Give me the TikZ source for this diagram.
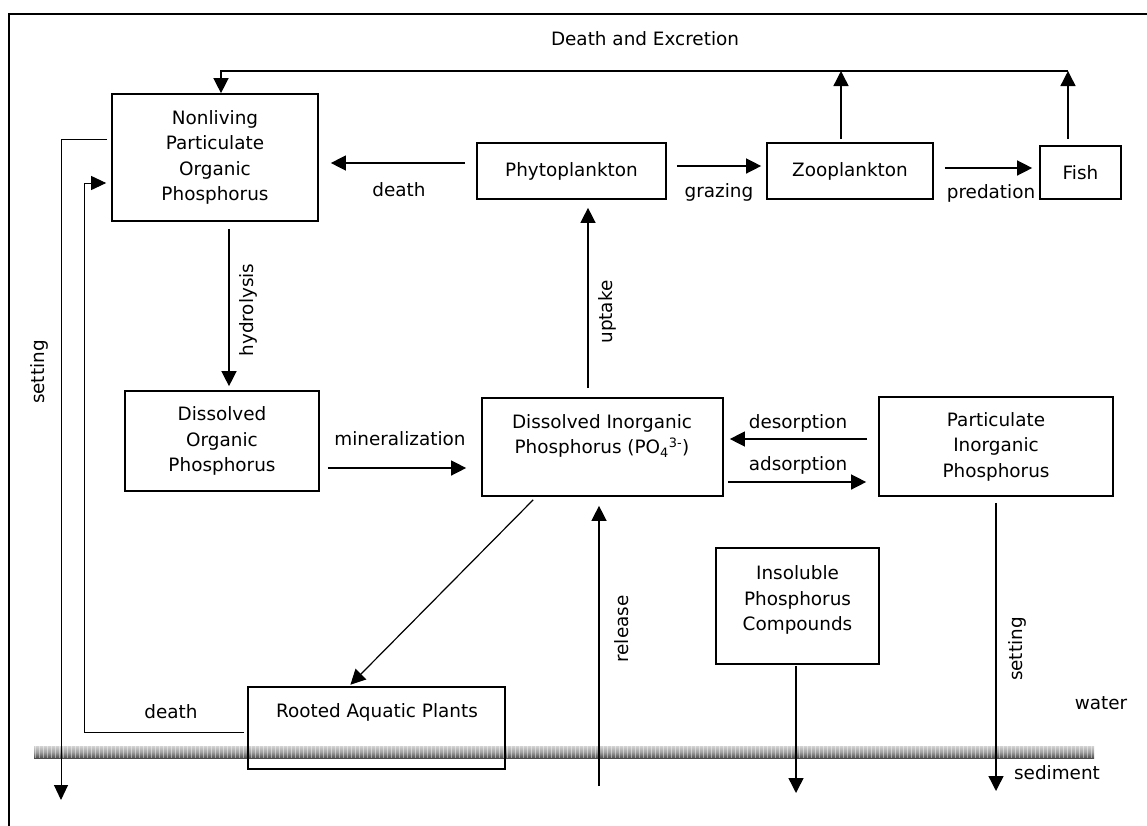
\documentclass[tikz,border=0pt]{standalone}
\usepackage{fontspec}
\setmainfont{DejaVu Sans}
\usetikzlibrary{arrows.meta}
\tikzset{
  box/.style={draw, line width=1.7pt, inner sep=0pt, align=center},
  lbl/.style={inner sep=0pt, align=center},
  arr/.style={line width=1.4pt, -{Triangle[length=15pt,width=15pt]}},
  thinarr/.style={line width=1pt, -{Triangle[length=15pt,width=14pt]}},
}
\begin{document}
\begin{tikzpicture}[x=1pt,y=-1pt,font=\fontsize{18.4}{25.5}\selectfont]
\useasboundingbox (0,0) rectangle (1147,825);
% frame
\draw[line width=2pt] (1150,14) -- (9,14) -- (9,830);
% sediment band
\shade[top color=gray!35, bottom color=black!70, middle color=gray!75] (34,746) rectangle (1094,758);
\foreach \x in {34,38,...,1092} \fill[white, opacity=0.45] (\x+0.5,746) rectangle (\x+2,758);
% boxes
\node[box, minimum width=206pt, minimum height=127pt] (npop) at (215,157.5) {Nonliving\\Particulate\\Organic\\Phosphorus};
\node[box, minimum width=189pt, minimum height=56pt] (phyto) at (571.5,171) {Phytoplankton};
\node[box, minimum width=166pt, minimum height=56pt] (zoo) at (850,171) {Zooplankton};
\node[box, minimum width=81pt, minimum height=53pt] (fish) at (1080.5,172.5) {Fish};
\node[box, minimum width=194pt, minimum height=100pt] (dop) at (222,441) {Dissolved\\Organic\\Phosphorus};
\node[box, minimum width=241pt, minimum height=98pt] (dip) at (602.5,447) {};
\node[lbl] (dipt) at (602,436) {Dissolved Inorganic\\Phosphorus (PO\textsubscript{4}\textsuperscript{3-})};
\node[box, minimum width=234pt, minimum height=99pt] (pip) at (996,446.5) {Particulate\\Inorganic\\Phosphorus};
\node[box, minimum width=163pt, minimum height=116pt] (ipc) at (797.5,606) {};
\node[lbl] (ipct) at (797.5,600) {Insoluble\\Phosphorus\\Compounds};
\node[box, minimum width=257pt, minimum height=82pt] (rap) at (376.5,728) {};
\node[lbl] (rapt) at (377,712) {Rooted Aquatic Plants};
% coordinates
\coordinate (exR) at (1068,71);
\coordinate (exL) at (221,71);
\coordinate (relB) at (599,786);
\coordinate (ipcB) at (796,793);
\coordinate (pipB) at (996,791);
\coordinate (setB) at (61,800);
\coordinate (dthL) at (84,183);
% connectors
\draw[arr] (exR) -- (exL) -- (exL |- npop.north);
\draw[arr] ([xshift=-12.5pt,yshift=6pt]fish.north) -- (exR);
\draw[arr] ([xshift=-9pt,yshift=3pt]zoo.north) -- ([xshift=-9pt]zoo.north |- exL);
\draw[arr, shorten <=11pt, shorten >=12pt] ([yshift=8pt]phyto.west) -- ([yshift=8pt]phyto.west -| npop.east);
\draw[arr, shorten <=10pt, shorten >=5pt] ([yshift=5pt]phyto.east) -- ([yshift=5pt]phyto.east -| zoo.west);
\draw[arr, shorten <=11pt, shorten >=7pt] ([yshift=3pt]zoo.east) -- ([yshift=3pt]zoo.east -| fish.west);
\draw[arr, shorten <=7pt, shorten >=4pt] ([xshift=14pt]npop.south) -- ([xshift=14pt]npop.south |- dop.north);
\draw[arr, shorten <=8pt, shorten >=15pt] ([yshift=-27pt]dop.east) -- ([yshift=-27pt]dop.east -| dip.west);
\draw[arr, shorten <=9pt, shorten >=8pt] ([xshift=-14.5pt]dip.north) -- ([xshift=-14.5pt]dip.north |- phyto.south);
\draw[arr, shorten <=11pt, shorten >=6pt] ([yshift=7.5pt]pip.west) -- ([yshift=7.5pt]pip.west -| dip.east);
\draw[arr, shorten <=4pt, shorten >=12pt] ([yshift=-35pt]dip.east) -- ([yshift=-35pt]dip.east -| pip.west);
\draw[line width=1.2pt, -{Triangle[length=15pt,width=15pt]}, shorten >=2pt] ([xshift=52pt,yshift=-3pt]dip.south west) -- ([xshift=-27.5pt]rap.north);
\draw[arr, shorten >=9pt] (relB) -- (relB |- dip.south);
\draw[arr] ([xshift=-1.5pt,yshift=-1pt]ipc.south) -- (ipcB);
\draw[arr, shorten <=6pt] (pip.south) -- (pipB);
\draw[thinarr] ([xshift=-4pt,yshift=18.5pt]npop.west) -| (setB);
\draw[thinarr, shorten >=5pt] ([xshift=-3pt,yshift=-4pt]rap.west) -| (dthL) -- (dthL -| npop.west);
% labels
\node[lbl] (ldx) at (645,39) {Death and Excretion};
\node[lbl] (ldeath) at (399,190) {death};
\node[lbl] (lgraz) at (719,192) {grazing};
\node[lbl] (lpred) at (991,193) {predation};
\node[lbl, rotate=90] (lhyd) at (248,310) {hydrolysis};
\node[lbl, rotate=90] (lupt) at (607,312) {uptake};
\node[lbl] (lmin) at (400,439) {mineralization};
\node[lbl] (ldes) at (798,423) {desorption};
\node[lbl] (lads) at (798,465) {adsorption};
\node[lbl] (ldeath2) at (171,712) {death};
\node[lbl, rotate=90] (lrel) at (622,629) {release};
\node[lbl, rotate=90] (lset1) at (39,372) {setting};
\node[lbl, rotate=90] (lset2) at (1017,649) {setting};
\node[lbl] (lwater) at (1101,703) {water};
\node[lbl] (lsed) at (1057,773) {sediment};
\end{tikzpicture}
\end{document}
